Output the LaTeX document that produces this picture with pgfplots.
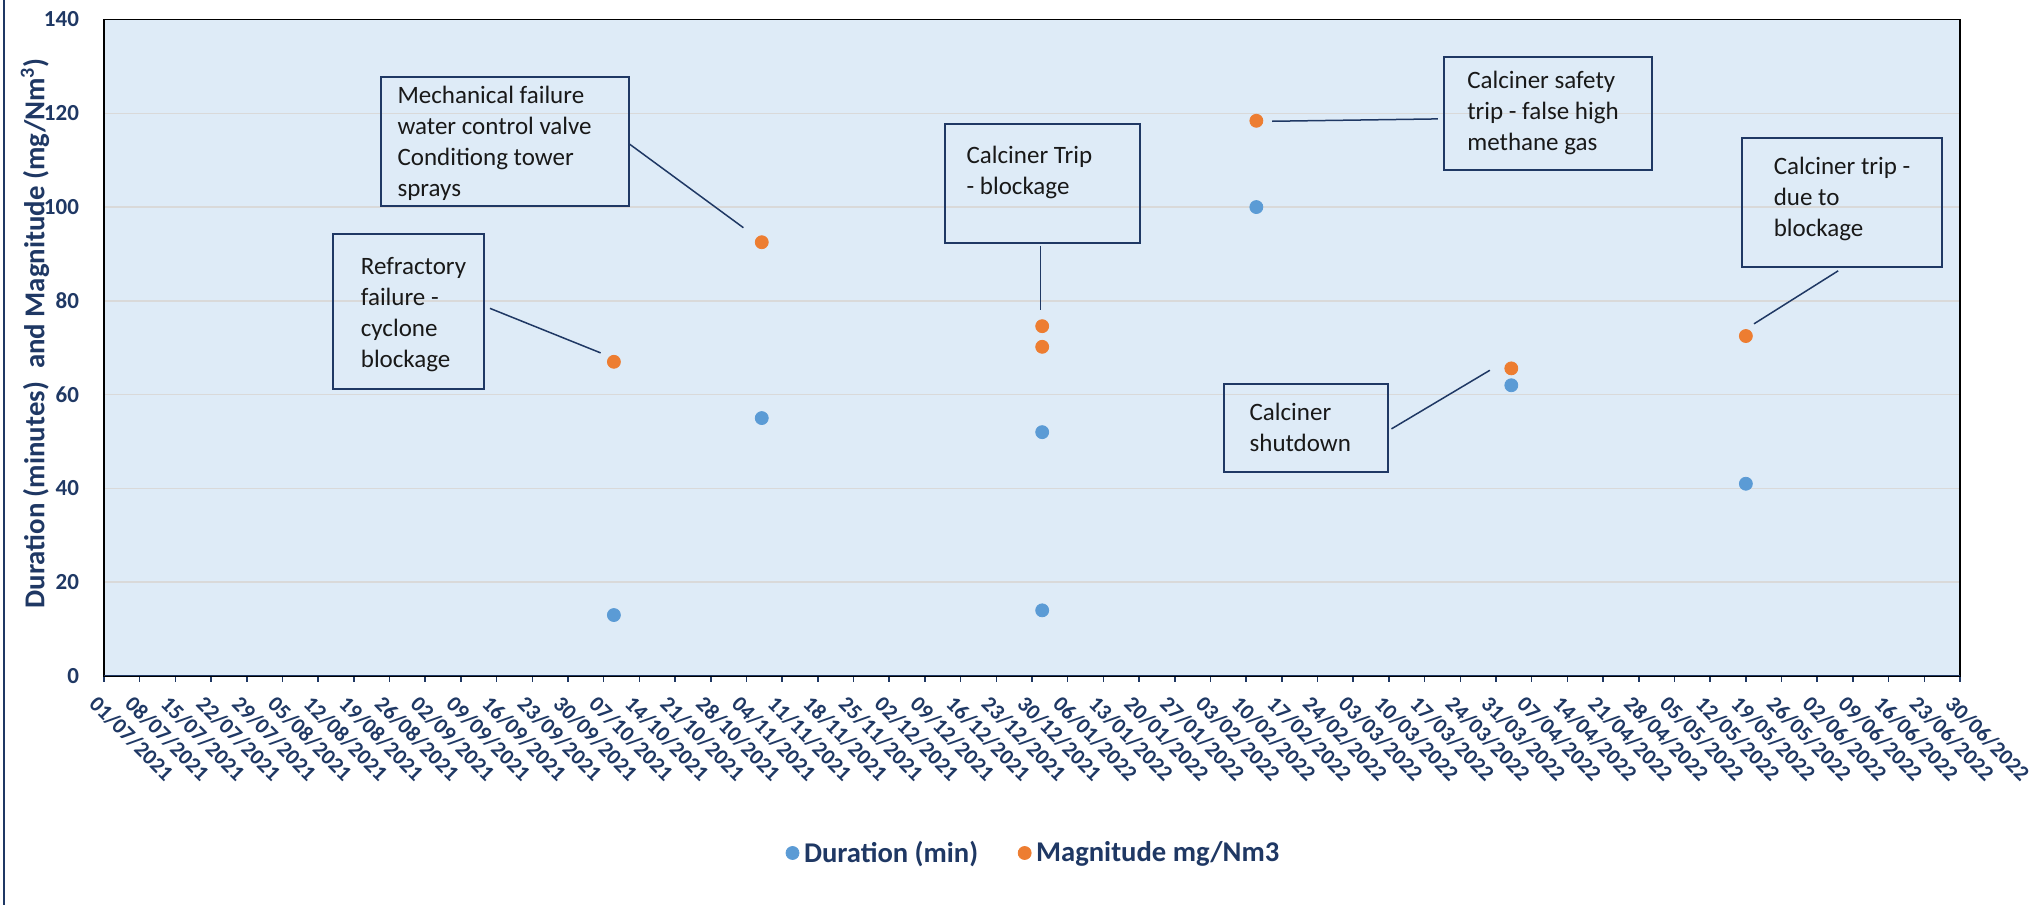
\documentclass[border=0pt]{standalone}
\usepackage{fontspec}
\setmainfont{Carlito}
\usepackage{pgfplots}
\pgfplotsset{compat=1.18}

\definecolor{navy}{HTML}{1F3864}
\definecolor{plotbg}{HTML}{DEEBF7}
\definecolor{gridc}{HTML}{D9D9D9}
\definecolor{durc}{HTML}{5B9BD5}
\definecolor{magc}{HTML}{ED7D31}

\newcommand{\boxfont}{\fontsize{12.5}{15.5}\selectfont}

\begin{document}
\begin{tikzpicture}
\path[use as bounding box] (0,0) rectangle (1021pt,452.5pt);
\draw[navy, line width=1pt] (1.75pt,0) -- (1.75pt,452.5pt);
\begin{axis}[
  at={(52pt,114.5pt)}, anchor=south west,
  scale only axis, width=928pt, height=328.25pt,
  xmin=0, xmax=364, ymin=0, ymax=140,
  axis background/.style={fill=plotbg},
  axis line style={black, line width=0.75pt},
  ymajorgrids, grid style={gridc, line width=0.75pt},
  ytick={0,20,...,140},
  xtick={0,7,...,364},
  xticklabels={01/07/2021,08/07/2021,15/07/2021,22/07/2021,29/07/2021,
    05/08/2021,12/08/2021,19/08/2021,26/08/2021,
    02/09/2021,09/09/2021,16/09/2021,23/09/2021,30/09/2021,
    07/10/2021,14/10/2021,21/10/2021,28/10/2021,
    04/11/2021,11/11/2021,18/11/2021,25/11/2021,
    02/12/2021,09/12/2021,16/12/2021,23/12/2021,30/12/2021,
    06/01/2022,13/01/2022,20/01/2022,27/01/2022,
    03/02/2022,10/02/2022,17/02/2022,24/02/2022,
    03/03/2022,10/03/2022,17/03/2022,24/03/2022,31/03/2022,
    07/04/2022,14/04/2022,21/04/2022,28/04/2022,
    05/05/2022,12/05/2022,19/05/2022,26/05/2022,
    02/06/2022,09/06/2022,16/06/2022,23/06/2022,30/06/2022},
  tick align=outside,
  major tick length=3pt,
  xtick style={navy, line width=0.75pt},
  ytick style={draw=none},
  xtick pos=bottom, ytick pos=left,
  /pgf/number format/assume math mode=true,
  yticklabel style={font=\fontsize{11.5}{12}\selectfont\bfseries, text=navy, xshift=-6pt},
  xticklabel style={font=\fontsize{11}{12}\selectfont\bfseries, text=navy, rotate=-45,
    anchor=north west, inner sep=1pt, xshift=1.5pt, yshift=-5pt},
  ylabel={Duration (minutes)\ \ and Magnitude (mg/Nm\textsuperscript{3})},
  ylabel style={font=\fontsize{14.4}{15}\selectfont\bfseries, text=navy,
    at={(axis description cs:-0.0372,0.522)}, anchor=center},
  legend image code/.code={\draw[#1] plot coordinates {(0pt,0pt)};},
  legend style={at={(0.5017,-0.2696)}, anchor=center, draw=none, fill=none,
    legend columns=2, font=\fontsize{14.3}{15}\selectfont\bfseries, text=navy,
    nodes={inner sep=2.5pt},
    /tikz/every even column/.append style={column sep=17.5pt}},
  legend cell align=left,
]
% Duration of each event (minutes)
\addplot[only marks, mark=*, color=durc, mark options={fill=durc, draw=durc}, mark size=3.25pt]
  coordinates {(100,13) (129,55) (184,52) (184,14) (226,100) (276,62) (322,41)};
\addlegendentry{Duration (min)}
% Peak magnitude of each event (mg/Nm3)
\addplot[only marks, mark=*, color=magc, mark options={fill=magc, draw=magc}, mark size=3.25pt]
  coordinates {(100,67) (129,92.5) (184,74.6) (184,70.2) (226,118.4) (276,65.6) (322,72.5)};
\addlegendentry{Magnitude mg/Nm3}

% bottom axis line
\draw[navy, line width=1.25pt] (rel axis cs:0,0) -- (rel axis cs:1,0);

% event annotations
\begin{scope}[navy, line width=1pt]
  \draw (axis cs:54.3,100.3) rectangle (axis cs:103.0,127.7);
  \draw (axis cs:45.0,61.3) rectangle (axis cs:74.5,94.3);
  \draw (axis cs:165.0,92.3) rectangle (axis cs:203.2,117.7);
  \draw (axis cs:262.8,107.9) rectangle (axis cs:303.5,131.9);
  \draw (axis cs:219.7,43.5) rectangle (axis cs:251.8,62.3);
  \draw (axis cs:321.2,87.3) rectangle (axis cs:360.5,114.8);
\end{scope}
\begin{scope}[navy, line width=0.75pt]
  \draw (axis cs:103.1,113.4) -- (axis cs:125.4,95.6);
  \draw (axis cs:75.7,78.4) -- (axis cs:97.4,68.9);
  \draw (axis cs:183.7,91.8) -- (axis cs:183.7,78.1);
  \draw (axis cs:229.1,118.3) -- (axis cs:261.6,118.8);
  \draw (axis cs:252.5,52.7) -- (axis cs:271.8,65.2);
  \draw (axis cs:340.1,86.4) -- (axis cs:323.6,75.1);
\end{scope}
\begin{scope}[every node/.style={anchor=west, align=left, inner sep=0pt, font=\boxfont, text=black!90}]
  \node at (axis cs:57.5,113.5) {Mechanical failure\\water control valve\\Conditiong tower\\sprays};
  \node at (axis cs:50.3,77.0) {Refractory\\failure -\\cyclone\\blockage};
  \node at (axis cs:169.1,107.4) {Calciner Trip\\- blockage};
  \node at (axis cs:267.3,120.1) {Calciner safety\\trip - false high\\methane gas};
  \node at (axis cs:224.6,53.0) {Calciner\\shutdown};
  \node at (axis cs:327.4,101.7) {Calciner trip -\\due to\\blockage};
\end{scope}
\end{axis}
\end{tikzpicture}
\end{document}
